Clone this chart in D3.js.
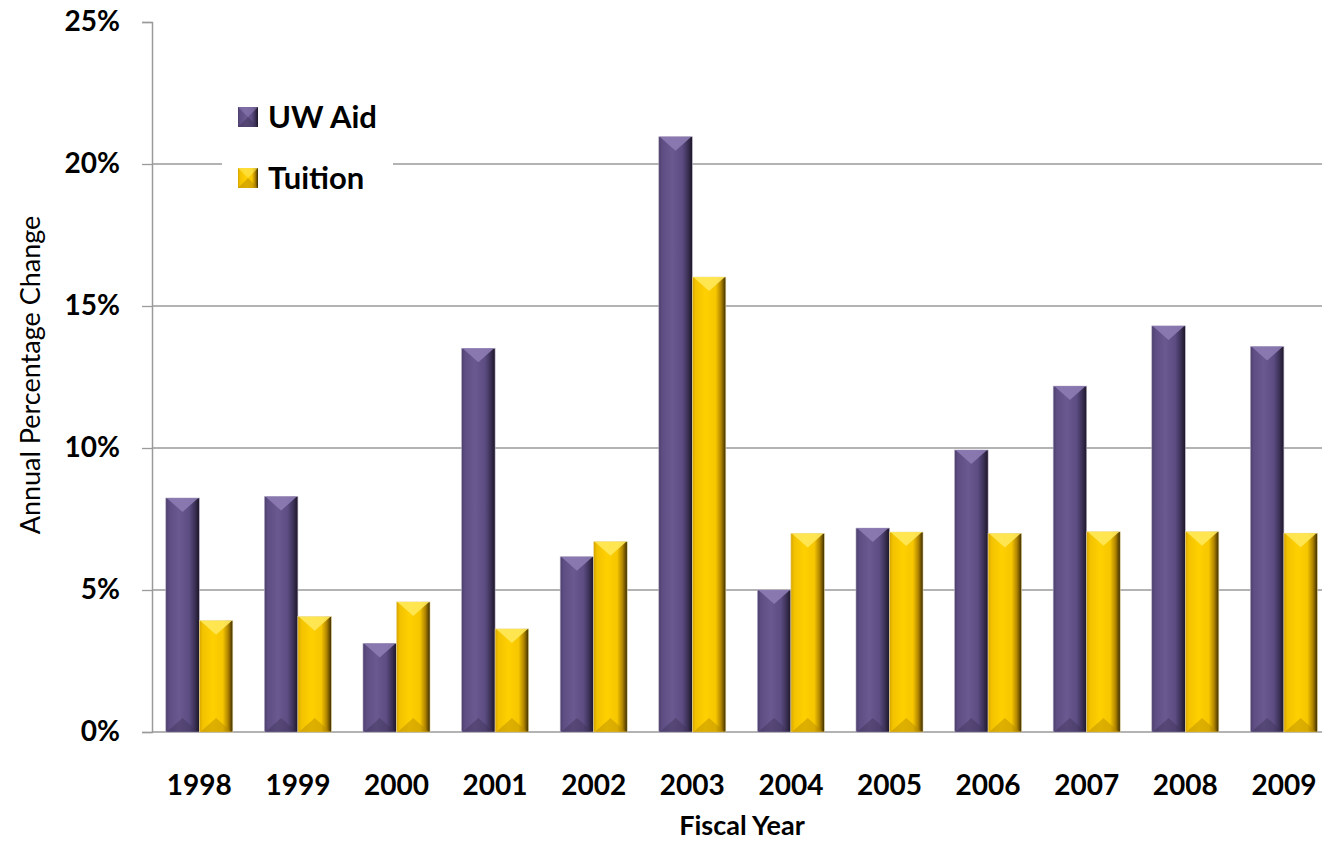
<!DOCTYPE html>
<html>
<head>
<meta charset="utf-8">
<script src="https://cdn.jsdelivr.net/npm/d3@7/dist/d3.min.js"></script>
<style>
  html, body { margin: 0; padding: 0; background: #fff; }
  svg { display: block; }
  text { font-family: Lato, "Open Sans", sans-serif; fill: #000; }
</style>
</head>
<body>
<svg id="chart" width="1322" height="844"></svg>
<script>
const years = ["1998","1999","2000","2001","2002","2003","2004","2005","2006","2007","2008","2009"];
const uwAid = [8.24, 8.29, 3.12, 13.51, 6.17, 20.96, 5.0, 7.18, 9.93, 12.18, 14.30, 13.57];
const tuition = [3.92, 4.06, 4.58, 3.63, 6.70, 16.02, 6.99, 7.04, 6.99, 7.05, 7.05, 7.00];
const seriesNames = ["UW Aid", "Tuition"];
const yTicks = [0, 5, 10, 15, 20, 25];

const svg = d3.select("#chart");
const W = 1322, H = 844;
const x0 = 150, yTop = 22, yBottom = 732, axisX = 152;

const x = d3.scaleBand().domain(years).range([x0, x0 + 12 * 98.6]).paddingInner(0.32).paddingOuter(0.16);
const xs = d3.scaleBand().domain(seriesNames).range([0, x.bandwidth()]);
const y = d3.scaleLinear().domain([0, 25]).range([yBottom, yTop]);

const defs = svg.append("defs");
function grad(id, stops) {
  const g = defs.append("linearGradient").attr("id", id).attr("x1", "0%").attr("x2", "100%").attr("y1", "0%").attr("y2", "0%");
  stops.forEach(s => g.append("stop").attr("offset", s[0]).attr("stop-color", s[1]));
}
grad("gPurple", [["0%", "#4c3f6c"], ["10%", "#5d4d82"], ["40%", "#6a5990"], ["70%", "#5c4c82"], ["86%", "#3d3258"], ["100%", "#1c1626"]]);
grad("gYellow", [["0%", "#d6a400"], ["10%", "#f2c200"], ["40%", "#ffd000"], ["70%", "#f6c600"], ["86%", "#b08400"], ["100%", "#3a2b00"]]);

const styles = {
  "UW Aid": { fill: "url(#gPurple)", top: "#8d7cb4", bottom: "#3e3358", outline: "#b9b0c9" },
  "Tuition": { fill: "url(#gYellow)", top: "#ffe95a", bottom: "#b58a00", outline: "#e8d79a" }
};

// gridlines
svg.append("g").selectAll("line").data(yTicks.filter(t => t > 0 && t < 25)).join("line")
  .attr("x1", axisX).attr("x2", W).attr("y1", d => y(d)).attr("y2", d => y(d))
  .attr("stroke", "#9a9a9a").attr("stroke-width", 1.3);

// y axis
const yAxis = d3.axisLeft(y).tickValues(yTicks).tickSize(10).tickPadding(22).tickFormat(d => d + "%");
const yg = svg.append("g").attr("transform", `translate(${axisX},0)`).call(yAxis);
yg.select(".domain").attr("stroke", "#9a9a9a").attr("stroke-width", 1.5);
yg.selectAll(".tick line").attr("stroke", "#9a9a9a").attr("stroke-width", 1.3);
yg.selectAll(".tick text").attr("font-size", 28).attr("font-weight", 700).attr("font-family", "Lato, sans-serif").attr("fill", "#000");

// x axis baseline
svg.append("line").attr("x1", axisX).attr("x2", W).attr("y1", y(0)).attr("y2", y(0))
  .attr("stroke", "#9a9a9a").attr("stroke-width", 1.5);

// bars
const rows = years.map((yr, i) => ({ year: yr, vals: [{ s: "UW Aid", v: uwAid[i] }, { s: "Tuition", v: tuition[i] }] }));
const groups = svg.append("g").selectAll("g").data(rows).join("g")
  .attr("transform", d => `translate(${x(d.year)},0)`);

groups.each(function(d) {
  const g = d3.select(this);
  d.vals.forEach(b => {
    const bx = xs(b.s), bw = xs.bandwidth();
    const top = y(b.v), bot = y(0);
    const st = styles[b.s];
    const bev = Math.min(14, (bot - top) / 2);
    g.append("rect").attr("x", bx).attr("y", top).attr("width", bw).attr("height", bot - top)
      .attr("fill", st.fill).attr("stroke", st.outline).attr("stroke-width", 0.6);
    g.append("path").attr("d", `M${bx + 1},${top} L${bx + bw - 1},${top} L${bx + bw / 2},${top + bev} Z`)
      .attr("fill", st.top).attr("opacity", 0.9);
    g.append("path").attr("d", `M${bx + 1},${bot} L${bx + bw - 1},${bot} L${bx + bw / 2},${bot - bev} Z`)
      .attr("fill", st.bottom).attr("opacity", 0.45);
  });
});

// x labels
svg.append("g").selectAll("text").data(years).join("text")
  .attr("x", d => x(d) + x.bandwidth() / 2).attr("y", 795)
  .attr("text-anchor", "middle").attr("font-size", 28).attr("font-weight", 700)
  .text(d => d);

// axis titles
svg.append("text").attr("x", 742).attr("y", 835).attr("text-anchor", "middle")
  .attr("font-size", 27).attr("font-weight", 700).text("Fiscal Year");
svg.append("text").attr("transform", "translate(40,375) rotate(-90)").attr("text-anchor", "middle")
  .attr("font-size", 27).attr("font-weight", 400).text("Annual Percentage Change");

// legend
const leg = svg.append("g");
leg.append("rect").attr("x", 222).attr("y", 92).attr("width", 171).attr("height", 112).attr("fill", "#fff");
const legItems = leg.selectAll("g").data(seriesNames).join("g")
  .attr("transform", (d, i) => `translate(238,${107 + i * 61})`);
legItems.each(function(s) {
  const g = d3.select(this);
  const st = styles[s];
  g.append("rect").attr("width", 20).attr("height", 20).attr("fill", st.fill);
  g.append("path").attr("d", "M0,0 L20,0 L10,10 Z").attr("fill", st.top).attr("opacity", 0.6);
  g.append("path").attr("d", "M0,20 L20,20 L10,10 Z").attr("fill", st.bottom).attr("opacity", 0.5);
  g.append("text").attr("x", 30).attr("y", 21).attr("font-size", 31).attr("font-weight", 700).text(s);
});
</script>
</body>
</html>
